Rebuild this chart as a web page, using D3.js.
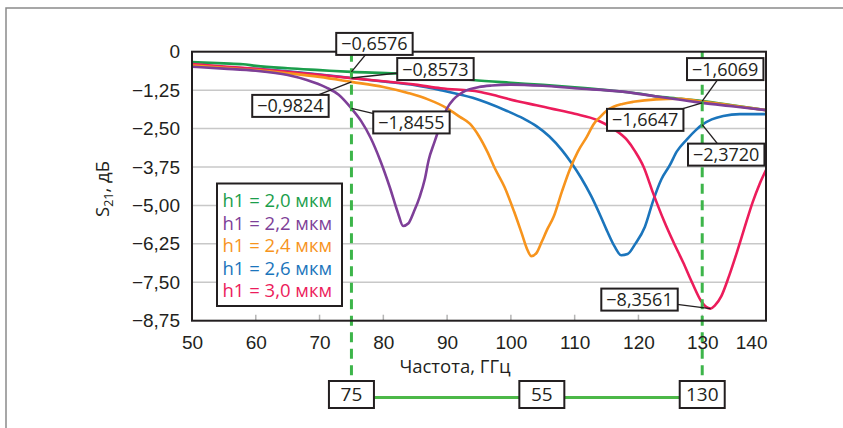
<!DOCTYPE html>
<html>
<head>
<meta charset="utf-8">
<script src="https://cdn.jsdelivr.net/npm/d3@7"></script>
<style>
  html, body { margin: 0; padding: 0; background: #fff; }
  svg { display: block; font-family: "Open Sans", "Noto Sans", sans-serif; }
</style>
</head>
<body>
<svg id="chart" width="843" height="428"></svg>
<script>
// ---- axis ticks ----
const xTicks = [50, 60, 70, 80, 90, 100, 110, 120, 130, 140];
const yTicks = [0, -1.25, -2.5, -3.75, -5, -6.25, -7.5, -8.75];

// ---- series: S21 (dB) versus frequency (GHz) ----
const seriesNames = ["h1 = 2,0 мкм", "h1 = 2,2 мкм", "h1 = 2,4 мкм", "h1 = 2,6 мкм", "h1 = 3,0 мкм"];
const seriesColors = ["#1b9e4b", "#7e3f98", "#f7941d", "#1b75bc", "#ec1c5b"];

const freqH20 = [50, 55, 58, 60, 65, 70, 75, 82, 88, 94, 100, 105, 110, 115, 120, 123, 126, 130, 135, 140];
const s21H20  = [-0.34, -0.38, -0.41, -0.46, -0.54, -0.60, -0.6576, -0.71, -0.80, -0.92, -1.01, -1.08, -1.16, -1.25, -1.36, -1.46, -1.52, -1.6069, -1.75, -1.90];

const freqH22 = [50, 55, 60, 65, 68, 71, 73, 75, 76.5, 78, 79.5, 81, 82.3, 83.1, 83.9, 84.8, 85.7, 86.5, 87.1, 88, 89, 90, 91, 92, 93, 95, 97, 100, 105, 110, 117.5, 123, 130, 135, 140];
const s21H22  = [-0.49, -0.55, -0.62, -0.76, -0.92, -1.16, -1.40, -1.8455, -2.25, -2.80, -3.53, -4.40, -5.25, -5.67, -5.59, -5.20, -4.72, -4.15, -3.53, -2.95, -2.35, -1.84, -1.55, -1.38, -1.26, -1.15, -1.10, -1.07, -1.11, -1.19, -1.30, -1.46, -1.6647, -1.78, -1.90];

const freqH24 = [50, 55, 60, 65, 70, 75, 80, 84, 87, 90, 92, 93.6, 95, 96.3, 97.5, 99, 100.5, 101.7, 102.6, 103.2, 104, 104.8, 105.7, 106.7, 108, 109.3, 110.5, 111.9, 113, 114, 115, 116.1, 117.5, 119.2, 122.8, 126.5, 130, 135, 140];
const s21H24  = [-0.45, -0.52, -0.60, -0.70, -0.82, -0.9824, -1.15, -1.35, -1.55, -1.84, -2.12, -2.35, -2.75, -3.25, -3.80, -4.40, -5.20, -5.91, -6.45, -6.65, -6.55, -6.20, -5.78, -5.37, -4.55, -3.80, -3.25, -2.77, -2.35, -2.12, -1.92, -1.79, -1.70, -1.63, -1.55, -1.53, -1.62, -1.76, -1.90];

const freqH26 = [50, 55, 60, 65, 70, 75, 80, 85, 89, 94, 99.3, 102, 104, 106, 108, 109.5, 111, 112.6, 114, 115.1, 116.3, 117.3, 118.3, 119.5, 121, 122.3, 123.6, 124.9, 126, 127.6, 129, 130, 131.5, 133.3, 135.9, 140];
const s21H26  = [-0.42, -0.50, -0.56, -0.64, -0.74, -0.8573, -0.97, -1.09, -1.25, -1.50, -1.92, -2.18, -2.42, -2.75, -3.20, -3.62, -4.10, -4.70, -5.32, -5.84, -6.35, -6.62, -6.58, -6.25, -5.70, -4.85, -4.15, -3.70, -3.25, -2.85, -2.55, -2.372, -2.20, -2.09, -2.03, -2.03];

const freqH30 = [50, 55, 60, 65, 70, 75, 80, 85, 89, 95, 98, 101.4, 104, 106.1, 110, 113.5, 116, 118.2, 119.5, 120.8, 122.3, 124, 125.5, 127, 128.5, 129.8, 130.6, 131.3, 132, 133, 134.2, 135.4, 136.6, 137.9, 139, 140];
const s21H30  = [-0.40, -0.48, -0.56, -0.65, -0.75, -0.86, -0.96, -1.07, -1.19, -1.30, -1.45, -1.63, -1.74, -1.84, -2.02, -2.22, -2.50, -2.87, -3.25, -3.74, -4.60, -5.50, -6.20, -6.85, -7.55, -8.10, -8.30, -8.3561, -8.25, -7.95, -7.30, -6.55, -5.75, -4.90, -4.30, -3.85];

const seriesFreq = [freqH20, freqH22, freqH24, freqH26, freqH30];
const seriesS21  = [s21H20, s21H22, s21H24, s21H26, s21H30];
const drawOrder  = [0, 3, 4, 2, 1];

// ---- value call-outs ----
const calloutFreq  = [75, 75, 75, 75, 130, 130, 130, 131.3];
const calloutValue = [-0.6576, -0.8573, -0.9824, -1.8455, -1.6069, -1.6647, -2.3720, -8.3561];
const calloutShift = [[23, -28], [84, -9], [-61, 24], [60, 14], [23, -32], [-57, 17], [24, 30], [-71, -9]];

// ---- band markers ----
const bandEdges = [75, 130];

// ---- layout ----
const plot = { left: 192, right: 766, top: 51.7, bottom: 320.7 };
const ink = "#231f20";

const svg = d3.select("#chart");

// outer frame
svg.append("path")
  .attr("d", "M6,428 L6,8 L843,8")
  .attr("fill", "none").attr("stroke", "#8a8a8a").attr("stroke-width", 1.5);

const x = d3.scaleLinear().domain([50, 140]).range([plot.left, plot.right]);
const y = d3.scaleLinear().domain([0, -8.75]).range([plot.top, plot.bottom]);

const fmtDec = (v, n) => v === 0 ? "0" : d3.format("." + n + "f")(v).replace(".", ",");

// horizontal grid
svg.append("g").selectAll("line")
  .data(yTicks.filter(t => t !== 0 && t !== -8.75))
  .join("line")
  .attr("x1", plot.left).attr("x2", plot.right)
  .attr("y1", d => y(d)).attr("y2", d => y(d))
  .attr("stroke", "#c8c8c8").attr("stroke-width", 1.5);

// small inner ticks along the bottom edge
svg.append("g").selectAll("line")
  .data(xTicks.slice(1, -1))
  .join("line")
  .attr("x1", d => x(d)).attr("x2", d => x(d))
  .attr("y1", plot.bottom).attr("y2", plot.bottom - 6)
  .attr("stroke", "#b5b5b5").attr("stroke-width", 1.5);

// curves
const clipId = "plot-clip";
svg.append("clipPath").attr("id", clipId)
  .append("rect")
  .attr("x", plot.left).attr("y", plot.top)
  .attr("width", plot.right - plot.left).attr("height", plot.bottom - plot.top);

const line = d3.line()
  .x(d => x(d[0])).y(d => y(d[1]))
  .curve(d3.curveMonotoneX);

const curves = svg.append("g").attr("clip-path", `url(#${clipId})`);
drawOrder.forEach(i => {
  const pts = seriesFreq[i].map((f, k) => [f, seriesS21[i][k]]);
  curves.append("path")
    .attr("d", line(pts))
    .attr("fill", "none")
    .attr("stroke", seriesColors[i])
    .attr("stroke-width", 2.6)
    .attr("stroke-linejoin", "round");
});

// band marker dashed verticals
const bandY = 394.5;
svg.append("g").selectAll("line")
  .data(bandEdges)
  .join("line")
  .attr("x1", d => x(d)).attr("x2", d => x(d))
  .attr("y1", plot.top).attr("y2", bandY)
  .attr("stroke", "#3db54a").attr("stroke-width", 3)
  .attr("stroke-dasharray", "10,6.5");

// plot frame
svg.append("rect")
  .attr("x", plot.left).attr("y", plot.top)
  .attr("width", plot.right - plot.left).attr("height", plot.bottom - plot.top)
  .attr("fill", "none").attr("stroke", ink).attr("stroke-width", 2);

// axes
const xAxis = svg.append("g")
  .attr("transform", `translate(0,${plot.bottom})`)
  .call(d3.axisBottom(x).tickValues(xTicks).tickSize(0).tickPadding(15).tickFormat(d3.format("d")));
xAxis.select(".domain").remove();
xAxis.selectAll("text")
  .attr("fill", ink).attr("font-size", 19).attr("font-family", null)
  .attr("text-anchor", (d, i) => i === xTicks.length - 1 ? "end" : "middle")
  .attr("dx", (d, i) => i === xTicks.length - 1 ? 1 : 0);

const yAxis = svg.append("g")
  .attr("transform", `translate(${plot.left},0)`)
  .call(d3.axisLeft(y).tickValues(yTicks).tickSize(0).tickPadding(12).tickFormat(d => fmtDec(d, 2)));
yAxis.select(".domain").remove();
yAxis.selectAll("text").attr("fill", ink).attr("font-size", 19).attr("font-family", null);

// axis titles
svg.append("text")
  .attr("x", 455).attr("y", 373)
  .attr("text-anchor", "middle")
  .attr("font-size", 18.5).attr("fill", ink)
  .text("Частота, ГГц");

const yTitle = svg.append("text")
  .attr("transform", "translate(109,189) rotate(-90)")
  .attr("text-anchor", "middle")
  .attr("font-size", 18.5).attr("fill", ink);
yTitle.append("tspan").text("S");
yTitle.append("tspan").attr("font-size", 12.5).attr("dy", 4).text("21");
yTitle.append("tspan").attr("dy", -4).text(", дБ");

// legend
const legend = svg.append("g");
legend.append("rect")
  .attr("x", 217).attr("y", 183.5).attr("width", 125).attr("height", 122.5)
  .attr("fill", "#fff").attr("stroke", ink).attr("stroke-width", 2);
legend.selectAll("text")
  .data(seriesNames)
  .join("text")
  .attr("x", 222.5)
  .attr("y", (d, i) => 201 + i * 22.4)
  .attr("dy", "0.35em")
  .attr("font-size", 18.5)
  .attr("fill", (d, i) => seriesColors[i])
  .text(d => d);

// value call-outs
const callouts = svg.append("g");
calloutFreq.forEach((f, i) => {
  const px = x(f), py = y(calloutValue[i]);
  const cx = px + calloutShift[i][0], cy = py + calloutShift[i][1];
  const g = callouts.append("g");
  g.append("line")
    .attr("x1", px).attr("y1", py).attr("x2", cx).attr("y2", cy)
    .attr("stroke", ink).attr("stroke-width", 1.4);
  const t = g.append("text")
    .attr("x", cx).attr("y", cy).attr("dy", "0.36em")
    .attr("text-anchor", "middle")
    .attr("font-size", 18).attr("fill", ink)
    .text(fmtDec(calloutValue[i], 4));
  const w = t.node().getComputedTextLength() + 10;
  g.insert("rect", "text")
    .attr("x", cx - w / 2).attr("y", cy - 11).attr("width", w).attr("height", 22)
    .attr("fill", "#fff").attr("stroke", ink).attr("stroke-width", 2);
});

// bandwidth bracket
const bracket = svg.append("g");
bracket.append("line")
  .attr("x1", x(bandEdges[0])).attr("x2", x(bandEdges[1]))
  .attr("y1", bandY + 3).attr("y2", bandY + 3)
  .attr("stroke", "#4cb848").attr("stroke-width", 3);
const bracketLabels = [
  { x: x(bandEdges[0]), text: String(bandEdges[0]) },
  { x: (x(bandEdges[0]) + x(bandEdges[1])) / 2 + 15, text: String(bandEdges[1] - bandEdges[0]) },
  { x: x(bandEdges[1]), text: String(bandEdges[1]) }
];
bracketLabels.forEach(b => {
  bracket.append("rect")
    .attr("x", b.x - 22.5).attr("y", bandY - 13.5).attr("width", 45).attr("height", 27)
    .attr("fill", "#fff").attr("stroke", ink).attr("stroke-width", 2);
  bracket.append("text")
    .attr("x", b.x).attr("y", bandY).attr("dy", "0.36em")
    .attr("text-anchor", "middle")
    .attr("font-size", 19).attr("fill", ink)
    .text(b.text);
});
</script>
</body>
</html>
